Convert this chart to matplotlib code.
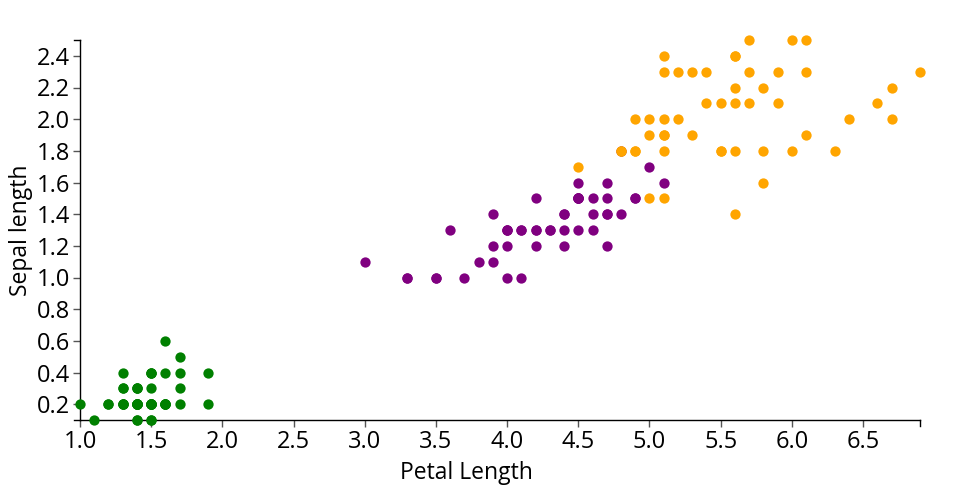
import matplotlib.pyplot as plt

plt.rcParams['font.family'] = ['Open Sans', 'DejaVu Sans']

# iris petal measurements, per species
setosa_len = [1.4,1.4,1.3,1.5,1.4,1.7,1.4,1.5,1.4,1.5,1.5,1.6,1.4,1.1,1.2,1.5,1.3,1.4,1.7,1.5,
              1.7,1.5,1.0,1.7,1.9,1.6,1.6,1.5,1.4,1.6,1.6,1.5,1.5,1.4,1.5,1.2,1.3,1.4,1.3,1.5,
              1.3,1.3,1.3,1.6,1.9,1.4,1.6,1.4,1.5,1.4]
setosa_wid = [0.2,0.2,0.2,0.2,0.2,0.4,0.3,0.2,0.2,0.1,0.2,0.2,0.1,0.1,0.2,0.4,0.4,0.3,0.3,0.3,
              0.2,0.4,0.2,0.5,0.2,0.2,0.4,0.2,0.2,0.2,0.2,0.4,0.1,0.2,0.2,0.2,0.2,0.1,0.2,0.2,
              0.3,0.3,0.2,0.6,0.4,0.3,0.2,0.2,0.2,0.2]
versi_len = [4.7,4.5,4.9,4.0,4.6,4.5,4.7,3.3,4.6,3.9,3.5,4.2,4.0,4.7,3.6,4.4,4.5,4.1,4.5,3.9,
             4.8,4.0,4.9,4.7,4.3,4.4,4.8,5.0,4.5,3.5,3.8,3.7,3.9,5.1,4.5,4.5,4.7,4.4,4.1,4.0,
             4.4,4.6,4.0,3.3,4.2,4.2,4.2,4.3,3.0,4.1]
versi_wid = [1.4,1.5,1.5,1.3,1.5,1.3,1.6,1.0,1.3,1.4,1.0,1.5,1.0,1.4,1.3,1.4,1.5,1.0,1.5,1.1,
             1.8,1.3,1.5,1.2,1.3,1.4,1.4,1.7,1.5,1.0,1.1,1.0,1.2,1.6,1.5,1.6,1.5,1.3,1.3,1.3,
             1.2,1.4,1.2,1.0,1.3,1.2,1.3,1.3,1.1,1.3]
virg_len = [6.0,5.1,5.9,5.6,5.8,6.6,4.5,6.3,5.8,6.1,5.1,5.3,5.5,5.0,5.1,5.3,5.5,6.7,6.9,5.0,
            5.7,4.9,6.7,4.9,5.7,6.0,4.8,4.9,5.6,5.8,6.1,6.4,5.6,5.1,5.6,6.1,5.6,5.5,4.8,5.4,
            5.6,5.1,5.1,5.9,5.7,5.2,5.0,5.2,5.4,5.1]
virg_wid = [2.5,1.9,2.1,1.8,2.2,2.1,1.7,1.8,1.8,2.5,2.0,1.9,2.1,2.0,2.4,2.3,1.8,2.2,2.3,1.5,
            2.3,2.0,2.0,1.8,2.1,1.8,1.8,1.8,2.1,1.6,1.9,2.0,2.2,1.5,1.4,2.3,2.4,1.8,1.8,2.1,
            2.4,2.3,1.9,2.3,2.5,2.3,1.9,2.0,2.3,1.8]

x_ticks = [1.0,1.5,2.0,2.5,3.0,3.5,4.0,4.5,5.0,5.5,6.0,6.5]
y_ticks = [0.2,0.4,0.6,0.8,1.0,1.2,1.4,1.6,1.8,2.0,2.2,2.4]

fig = plt.figure(figsize=(9.6, 5), dpi=100)
ax = fig.add_axes([80/960, 80/500, 840/960, 380/500])

ax.scatter(setosa_len, setosa_wid, s=55, color='#008000', linewidths=0, zorder=3, clip_on=False)
ax.scatter(versi_len, versi_wid, s=55, color='#800080', linewidths=0, zorder=3, clip_on=False)
ax.scatter(virg_len, virg_wid, s=55, color='#FFA500', linewidths=0, zorder=3, clip_on=False)

ax.set_xlim(1.0, 6.9)
ax.set_ylim(0.1, 2.5)
ax.set_xticks(x_ticks)
ax.set_yticks(y_ticks)
ax.set_xticklabels(['%.1f' % v for v in x_ticks])
ax.set_yticklabels(['%.1f' % v for v in y_ticks])
ax.tick_params(labelsize=17, length=5, width=1, color='#555555', pad=2)

for s in ['top', 'right']:
    ax.spines[s].set_visible(False)
for s in ['left', 'bottom']:
    ax.spines[s].set_linewidth(1)
    ax.spines[s].set_color('black')

# outer ticks at axis ends
ax.plot([1, 1], [0, -0.016], transform=ax.transAxes, color='black', lw=1, clip_on=False)
ax.plot([0, -0.007], [1, 1], transform=ax.transAxes, color='black', lw=1, clip_on=False)
ax.plot([0, -0.007], [0, 0], transform=ax.transAxes, color='black', lw=1, clip_on=False)

ax.set_xlabel('Petal Length', fontsize=16.5)
ax.set_ylabel('Sepal length', fontsize=16.5)
ax.xaxis.set_label_coords(0.46, -0.107)
ax.yaxis.set_label_coords(-0.056, 0.5)

plt.savefig('out.png', dpi=100)
